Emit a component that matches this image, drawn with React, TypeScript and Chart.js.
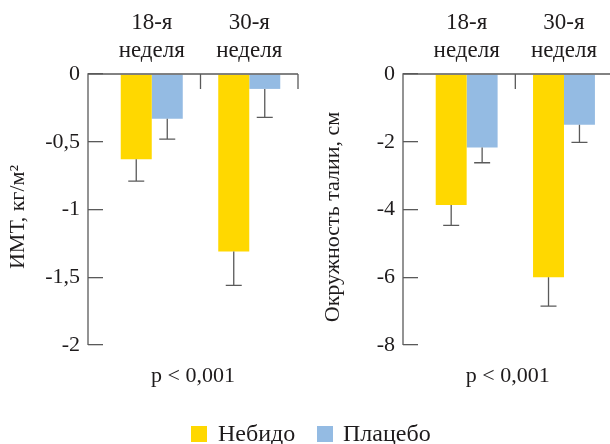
import React, { useEffect, useRef } from "react";
import { Chart, registerables } from "chart.js";
Chart.register(...registerables);

const categories = [["18-я", "неделя"], ["30-я", "неделя"]];
const seriesNames = ["Небидо", "Плацебо"];
const bmiNebido = [-0.63, -1.31];
const bmiNebidoErr = [0.16, 0.25];
const bmiPlacebo = [-0.33, -0.11];
const bmiPlaceboErr = [0.15, 0.21];
const waistNebido = [-3.87, -6.0];
const waistNebidoErr = [0.6, 0.85];
const waistPlacebo = [-2.17, -1.5];
const waistPlaceboErr = [0.45, 0.52];
const bmiTicks = [0, -0.5, -1, -1.5, -2];
const waistTicks = [0, -2, -4, -6, -8];
const pText = "p < 0,001";
const bmiTitle = "ИМТ, кг/м²";
const waistTitle = "Окружность талии, см";

const YELLOW = "#FFD800";
const BLUE = "#94BBE3";
const AXIS = "#5a5a5a";
const TEXT = "#1e1b1c";
const FONT = "'Liberation Serif', 'Times New Roman', serif";

const framePlugin = {
  id: "frame",
  afterDraw(chart: any) {
    const { ctx, chartArea, scales } = chart;
    const o = chart.options.plugins.frame;
    const x = scales.x;
    const y = scales.y;
    const tl = 15;
    const y0 = y.getPixelForValue(0);
    const yMin = y.getPixelForValue(y.min);
    const axisX = chartArea.left - tl;
    ctx.save();
    // error bars
    ctx.strokeStyle = AXIS;
    ctx.lineWidth = 1.3;
    chart.data.datasets.forEach((ds: any, di: number) => {
      const meta = chart.getDatasetMeta(di);
      meta.data.forEach((el: any, i: number) => {
        const v = ds.data[i];
        const end = y.getPixelForValue(v - o.errors[di][i]);
        ctx.beginPath();
        ctx.moveTo(el.x, el.y);
        ctx.lineTo(el.x, end);
        ctx.moveTo(el.x - 8, end);
        ctx.lineTo(el.x + 8, end);
        ctx.stroke();
      });
    });
    // axes
    ctx.beginPath();
    ctx.moveTo(axisX, yMin);
    ctx.lineTo(axisX, y0);
    ctx.lineTo(chartArea.right, y0);
    const n = chart.data.labels.length;
    const cw = n > 1 ? x.getPixelForValue(1) - x.getPixelForValue(0) : x.width;
    for (let i = 0; i < n; i++) {
      const sx = x.getPixelForValue(i) + cw / 2;
      ctx.moveTo(sx, y0);
      ctx.lineTo(sx, y0 + tl);
    }
    ctx.stroke();
    // p text
    ctx.fillStyle = TEXT;
    ctx.font = `22px ${FONT}`;
    ctx.textAlign = "center";
    ctx.textBaseline = "middle";
    ctx.fillText(o.pText, (axisX + chartArea.right) / 2, yMin + 31);
    // y title
    ctx.save();
    ctx.translate(o.titleX, o.titleY);
    ctx.rotate(-Math.PI / 2);
    ctx.font = `22px ${FONT}`;
    ctx.fillText(o.title, 0, 0);
    ctx.restore();
    ctx.restore();
  },
};

function makeChart(
  canvas: HTMLCanvasElement,
  a: number[],
  aErr: number[],
  b: number[],
  bErr: number[],
  ticks: number[],
  title: string,
  titleX: number,
  padRight: number,
  yAxisWidth: number
) {
  const minV = Math.min(...ticks);
  const maxV = Math.max(...ticks);
  return new Chart(canvas, {
    type: "bar",
    data: {
      labels: categories as any,
      datasets: [
        { label: seriesNames[0], data: a, backgroundColor: YELLOW, borderWidth: 0 },
        { label: seriesNames[1], data: b, backgroundColor: BLUE, borderWidth: 0 },
      ],
    },
    plugins: [framePlugin],
    options: {
      animation: false,
      responsive: false,
      devicePixelRatio: 1,
      events: [],
      layout: { padding: { left: 0, top: 0, right: padRight, bottom: 99 } },
      datasets: { bar: { categoryPercentage: 0.636, barPercentage: 1 } },
      plugins: {
        legend: { display: false },
        tooltip: { enabled: false },
        frame: {
          errors: [aErr, bErr],
          pText,
          title,
          titleX,
          titleY: 217,
        },
      } as any,
      scales: {
        x: {
          type: "category",
          position: "top",
          offset: true,
          grid: { display: false },
          border: { display: false },
          ticks: {
            color: TEXT,
            font: { family: FONT, size: 23, lineHeight: 1.22 },
            padding: 1,
            maxRotation: 0,
            autoSkip: false,
          },
          afterFit: (s: any) => {
            s.height = 74;
          },
        },
        y: {
          type: "linear",
          min: minV,
          max: maxV,
          grid: {
            display: true,
            drawOnChartArea: false,
            drawTicks: true,
            tickLength: 15,
            color: AXIS,
            lineWidth: 1.3,
          },
          border: { display: false },
          afterBuildTicks: (s: any) => {
            s.ticks = ticks.map((v) => ({ value: v }));
          },
          ticks: {
            color: TEXT,
            font: { family: FONT, size: 22 },
            padding: 8,
            callback: (v: any) => String(v).replace(".", ","),
          },
          afterFit: (s: any) => {
            s.width = yAxisWidth;
          },
        },
      },
    } as any,
  });
}

export default function App() {
  const leftRef = useRef<HTMLCanvasElement>(null);
  const rightRef = useRef<HTMLCanvasElement>(null);
  useEffect(() => {
    const c1 = makeChart(
      leftRef.current!,
      bmiNebido,
      bmiNebidoErr,
      bmiPlacebo,
      bmiPlaceboErr,
      bmiTicks,
      bmiTitle,
      18.5,
      7,
      103
    );
    const c2 = makeChart(
      rightRef.current!,
      waistNebido,
      waistNebidoErr,
      waistPlacebo,
      waistPlaceboErr,
      waistTicks,
      waistTitle,
      28,
      2.35,
      113
    );
    return () => {
      c1.destroy();
      c2.destroy();
    };
  }, []);
  const legendText: React.CSSProperties = {
    position: "absolute",
    top: 421,
    fontFamily: FONT,
    fontSize: 24,
    lineHeight: "24px",
    color: TEXT,
    whiteSpace: "nowrap",
  };
  return (
    <div
      style={{
        position: "fixed",
        left: 0,
        top: 0,
        width: 610,
        height: 444,
        overflow: "hidden",
        background: "#fff",
      }}
    >
      <canvas ref={leftRef} width={305} height={444} style={{ position: "absolute", left: 0, top: 0 }} />
      <canvas ref={rightRef} width={310} height={444} style={{ position: "absolute", left: 305, top: 0 }} />
      <div style={{ position: "absolute", left: 191, top: 426, width: 16, height: 16, background: YELLOW }} />
      <div style={{ ...legendText, left: 218 }}>{seriesNames[0]}</div>
      <div style={{ position: "absolute", left: 317, top: 426, width: 16, height: 16, background: BLUE }} />
      <div style={{ ...legendText, left: 343 }}>{seriesNames[1]}</div>
    </div>
  );
}
